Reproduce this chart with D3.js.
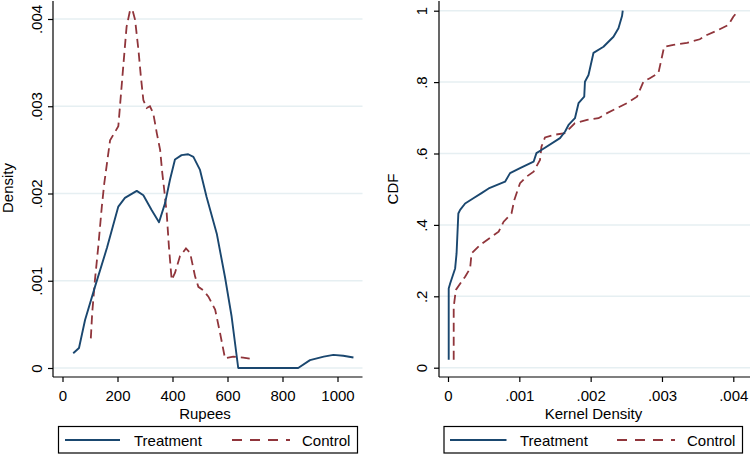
<!DOCTYPE html>
<html><head><meta charset="utf-8">
<script src="https://cdn.jsdelivr.net/npm/d3@7"></script>
<style>
html,body{margin:0;padding:0;background:#fff;}
svg{display:block;font-family:"Liberation Sans",Arial,sans-serif;}
</style></head>
<body>
<svg id="chart" width="750" height="456"></svg>
<script>
// ---------- DATA ----------
const seriesNames = ["Treatment", "Control"];

// Left panel: kernel density of Rupees
const densTreatRupees = [39,60,82,118,162,203,227,270,294,324,351,373,391,409,433,457,476,500,524,561,591,615,639,857,900,950,985,1021,1058];
const densTreatValues = [0.000169,0.00023,0.00055,0.00093,0.00138,0.00185,0.00195,0.00203,0.00198,0.00181,0.00167,0.00189,0.00216,0.00239,0.00244,0.00245,0.00242,0.00227,0.00196,0.00154,0.00104,0.00059,0.0,0.0,0.00009,0.00013,0.00015,0.00014,0.00012];

const densCtrlRupees = [103,108,118,130,143,152,173,188,203,209,221,233,245,254,264,276,285,294,306,318,330,343,355,363,370,379,387,397,409,427,449,464,482,494,512,530,555,573,591,621,657,694];
const densCtrlValues = [0.00034,0.00063,0.00101,0.00139,0.00185,0.00212,0.00261,0.00269,0.00277,0.0030,0.00346,0.00391,0.00409,0.00411,0.00399,0.00365,0.00334,0.00307,0.00298,0.00300,0.00292,0.00269,0.0025,0.00223,0.00204,0.00177,0.00139,0.00101,0.00109,0.00128,0.00137,0.00132,0.00105,0.00093,0.00089,0.00082,0.00067,0.0004,0.00011,0.00013,0.00012,0.0001];

// Right panel: CDF against kernel density
const cdfTreatDensity = [0.00001,0.00001,0.00003,0.0001,0.00012,0.000145,0.00017,0.00024,0.00035,0.00047,0.00057,0.0008,0.00087,0.00101,0.0012,0.00124,0.00131,0.00157,0.00164,0.00169,0.00178,0.00183,0.00191,0.00192,0.00197,0.00204,0.00218,0.00232,0.00239,0.00244,0.00245];
const cdfTreatValues  = [0.022,0.222,0.236,0.278,0.32,0.432,0.442,0.46,0.474,0.489,0.502,0.521,0.545,0.559,0.577,0.601,0.61,0.643,0.661,0.68,0.699,0.741,0.759,0.801,0.82,0.882,0.899,0.927,0.951,0.985,1.0];

const cdfCtrlDensity = [0.00008,0.00008,0.00011,0.00024,0.00031,0.00033,0.00045,0.00071,0.00078,0.00089,0.00093,0.00101,0.0011,0.0012,0.00129,0.00131,0.00136,0.00148,0.00164,0.00171,0.00178,0.00195,0.00211,0.00223,0.00237,0.00251,0.00265,0.00274,0.00283,0.00295,0.0030,0.00303,0.00316,0.00335,0.00353,0.00363,0.00377,0.00393,0.0040,0.00407];
const cdfCtrlValues  = [0.022,0.17,0.218,0.255,0.278,0.32,0.344,0.381,0.409,0.432,0.47,0.517,0.535,0.549,0.582,0.619,0.645,0.652,0.657,0.671,0.685,0.694,0.699,0.713,0.727,0.741,0.759,0.801,0.811,0.825,0.871,0.899,0.904,0.91,0.92,0.932,0.944,0.96,0.983,1.0];

const leftXTicks = [0,200,400,600,800,1000];
const leftYTicks = [0,0.001,0.002,0.003,0.004];
const leftYTickLabels = ["0",".001",".002",".003",".004"];
const rightXTicks = [0,0.001,0.002,0.003,0.004];
const rightXTickLabels = ["0",".001",".002",".003",".004"];
const rightYTicks = [0,0.2,0.4,0.6,0.8,1];
const rightYTickLabels = ["0",".2",".4",".6",".8","1"];

// ---------- STYLE ----------
const navy = "#1a476f", maroon = "#90353b", grid = "#e6eff2";
const FS = 15;
const svg = d3.select("#chart");

function panel(cfg){
  const g = svg.append("g");
  const x = d3.scaleLinear().domain(cfg.xDomain).range(cfg.xRange);
  const y = d3.scaleLinear().domain(cfg.yDomain).range(cfg.yRange);
  // gridlines
  g.selectAll("line.grid").data(cfg.yTicks).join("line")
    .attr("x1", cfg.axisX).attr("x2", cfg.plotRight)
    .attr("y1", d=>y(d)).attr("y2", d=>y(d))
    .attr("stroke", grid).attr("stroke-width", 1.5);
  // y axis
  const ya = g.append("g").attr("transform",`translate(${cfg.axisX},0)`)
    .call(d3.axisLeft(y).tickValues(cfg.yTicks).tickSize(5).tickFormat((d,i)=>cfg.yTickLabels[i]));
  ya.select(".domain").attr("d", `M0,${cfg.axisTop}V${cfg.axisY}`).attr("stroke","#000").attr("stroke-width",1.2);
  ya.selectAll(".tick line").attr("stroke","#000").attr("stroke-width",1.2);
  ya.selectAll(".tick text").attr("font-size",FS).attr("font-family","Liberation Sans, Arial, sans-serif")
    .attr("fill","#000").attr("text-anchor","middle").attr("dy",null).attr("x",null)
    .attr("transform",`translate(${cfg.yLabelBase - cfg.axisX},0) rotate(-90)`).attr("y",0);
  // x axis
  const xa = g.append("g").attr("transform",`translate(0,${cfg.axisY})`)
    .call(d3.axisBottom(x).tickValues(cfg.xTicks).tickSize(5).tickFormat((d,i)=>cfg.xTickLabels[i]));
  xa.select(".domain").attr("d", `M${cfg.axisX},0H${cfg.plotRight}`).attr("stroke","#000").attr("stroke-width",1.2);
  xa.selectAll(".tick line").attr("stroke","#000").attr("stroke-width",1.2);
  xa.selectAll(".tick text").attr("font-size",FS).attr("font-family","Liberation Sans, Arial, sans-serif")
    .attr("fill","#000").attr("dy",null).attr("y",24);
  // titles
  g.append("text").attr("x",cfg.xTitleX).attr("y",419).attr("text-anchor","middle")
    .attr("font-size",FS).text(cfg.xTitle);
  g.append("text").attr("transform",`translate(${cfg.yTitleBase},${cfg.yTitleY}) rotate(-90)`)
    .attr("text-anchor","middle").attr("font-size",FS).text(cfg.yTitle);
  // lines
  const line = d3.line().x(d=>x(d[0])).y(d=>y(d[1]));
  const tData = d3.zip(cfg.tX, cfg.tY), cData = d3.zip(cfg.cX, cfg.cY);
  g.append("path").datum(cData).attr("d",line).attr("fill","none")
    .attr("stroke",maroon).attr("stroke-width",1.8).attr("stroke-dasharray","9,5");
  g.append("path").datum(tData).attr("d",line).attr("fill","none")
    .attr("stroke",navy).attr("stroke-width",1.9).attr("stroke-linejoin","round");
  // legend
  const L = cfg.legend;
  g.append("rect").attr("x",L.x).attr("y",426.5).attr("width",L.w).attr("height",26.5)
    .attr("fill","#fff").attr("stroke","#000").attr("stroke-width",1.2);
  g.append("line").attr("x1",L.l1[0]).attr("x2",L.l1[1]).attr("y1",440).attr("y2",440)
    .attr("stroke",navy).attr("stroke-width",1.9);
  g.append("text").attr("x",L.t1).attr("y",446).attr("font-size",FS).text(seriesNames[0]);
  g.append("line").attr("x1",L.l2[0]).attr("x2",L.l2[1]).attr("y1",440).attr("y2",440)
    .attr("stroke",maroon).attr("stroke-width",1.8).attr("stroke-dasharray","10,8");
  g.append("text").attr("x",L.t2).attr("y",446).attr("font-size",FS).text(seriesNames[1]);
}

panel({
  xDomain:[0,1000], xRange:[62.5,337.5], yDomain:[0,0.004], yRange:[368,19],
  axisX:53, axisY:377, axisTop:1, plotRight:362.5, yLabelBase:42,
  xTicks:leftXTicks, xTickLabels:leftXTicks.map(String),
  yTicks:leftYTicks, yTickLabels:leftYTickLabels,
  xTitle:"Rupees", xTitleX:205, yTitle:"Density", yTitleBase:13, yTitleY:188,
  tX:densTreatRupees, tY:densTreatValues, cX:densCtrlRupees, cY:densCtrlValues,
  legend:{x:58.5,w:299,l1:[65,120],t1:134,l2:[232,290],t2:302}
});
panel({
  xDomain:[0,0.004], xRange:[448,733.3], yDomain:[0,1], yRange:[367.7,10.7],
  axisX:439, axisY:377, axisTop:1, plotRight:750, yLabelBase:427,
  xTicks:rightXTicks, xTickLabels:rightXTickLabels,
  yTicks:rightYTicks, yTickLabels:rightYTickLabels,
  xTitle:"Kernel Density", xTitleX:593.5, yTitle:"CDF", yTitleBase:398, yTitleY:189,
  tX:cdfTreatDensity, tY:cdfTreatValues, cX:cdfCtrlDensity, cY:cdfCtrlValues,
  legend:{x:444,w:298.5,l1:[450,506.5],t1:520,l2:[617,675],t2:687}
});
</script>
</body></html>
